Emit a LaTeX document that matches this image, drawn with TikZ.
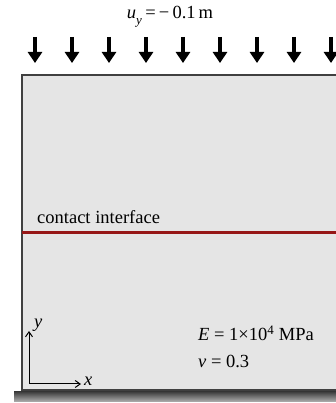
\documentclass[tikz,border=0pt]{standalone}
\usepackage{fontspec}
\setmainfont{Liberation Serif}
\usetikzlibrary{arrows.meta,positioning}

\tikzset{
  txt/.style={inner sep=0pt, font=\fontsize{18.5}{20}\selectfont},
  load/.style={line width=3.8pt, -{Triangle[width=14pt,length=11pt]}},
  body/.style={draw=black!75, line width=1.4pt, fill=gray!20},
  interface/.style={line width=3pt, draw={rgb,255:red,150;green,22;blue,22}},
  axis/.style={line width=1pt, -{Straight Barb[length=5pt,width=7pt]}},
}

\begin{document}
\begin{tikzpicture}[x=1pt, y=1pt]
			\useasboundingbox (0,0) rectangle (336,403);
			\clip (0,0) rectangle (336,403);
			% ground and block
			\shade[top color=black!75, bottom color=black!30] (14,1) rectangle (345,11);
			\draw[body] (22,13) rectangle (345,328);
			% prescribed displacement
			\node[txt] (load) at (170,386) {\textit{u}\raisebox{-3pt}{\textsubscript{\textit{y}}}\,=\,−\,0.1\,m};
			\foreach \i in {0,...,8} {
				\coordinate (a\i) at (35+37*\i,366);
				\coordinate (b\i) at (35+37*\i,340);
				\draw[load] (a\i) -- (b\i);
			}
			%
			\coordinate (c1) at (22,170);
			\coordinate (c2) at (345,170);
			\draw[interface] (c1) -- (c2);
			\node[txt, anchor=west] (ci) at (37,186) {contact interface};
			% axes
			\coordinate (o) at (29,19);
			\coordinate (ytip) at (29,72);
			\coordinate (xtip) at (81,19);
			\draw[axis] (o) -- (ytip);
			\draw[axis] (o) -- (xtip);
			\node[txt, anchor=west] (ylab) at (34,78) {\textit{y}};
			\node[txt, anchor=west] (xlab) at (84,22) {\textit{x}};
			% material
			\node[txt, anchor=west] (emod) at (198,70) {\textit{E} = 1×10\textsuperscript{4} MPa};
			\node[txt, below=14pt of emod.south west, anchor=north west] (nu) {\textit{ν} = 0.3};
		\end{tikzpicture}
\end{document}
